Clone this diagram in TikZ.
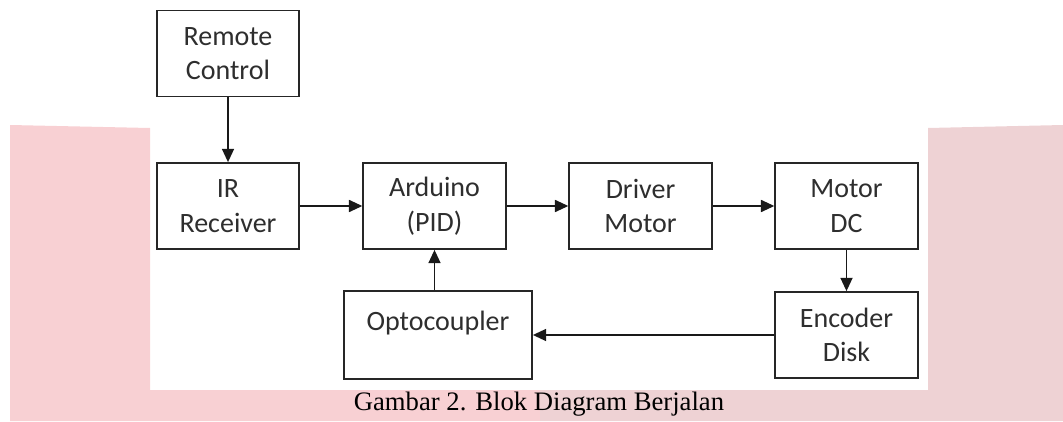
\documentclass[tikz,border=0pt]{standalone}
\usepackage{fontspec}
\setmainfont{Carlito}
\newfontfamily\capfont{Liberation Serif}
\usetikzlibrary{arrows.meta,positioning}
\definecolor{pinkL}{HTML}{F8D0D3}
\definecolor{pinkR}{HTML}{EED2D4}
\definecolor{txtgray}{HTML}{2E2E2E}
\tikzset{
  blok/.style={draw=black!85, line width=1.3pt, minimum width=107pt, minimum height=64.5pt,
    align=center, text=txtgray, font=\fontsize{21}{26}\selectfont, inner sep=0pt},
  panah/.style={-{Triangle[length=10pt,width=9pt]}, line width=1.3pt, draw=black!90}
}
\begin{document}
\begin{tikzpicture}[x=0.75pt,y=-0.75pt]
        \useasboundingbox (0,0) rectangle (1063,421);
        % pink band behind the white figure area
        \fill[pinkL] (10,125) -- (150,128) -- (150,390) -- (540,390) -- (540,421) -- (10,421) -- cycle;
        \fill[pinkR] (540,390) -- (928,390) -- (928,128) -- (1063,125) -- (1063,421) -- (540,421) -- cycle;
        % blocks
        \node[blok] (remote) at (228,53.5) {Remote\\Control};
        \node[blok] (ir) at (228,206) {IR\\Receiver};
        \node[blok] (ard) at (434.5,206) {Arduino\\(PID)};
        \node[blok] (drv) at (640.5,206) {Driver\\Motor};
        \node[blok] (mot) at (846.5,206) {Motor\\DC};
        \node[blok] (enc) at (846.5,335) {Encoder\\Disk};
        \node[blok, minimum width=141pt, minimum height=66pt] (opto) at (438,335) {Optocoupler\\[-12pt]\strut};
        % connections
        \draw[panah] (remote) -- (ir);
        \draw[panah] (ir) -- (ard);
        \draw[panah] (ard) -- (drv);
        \draw[panah] (drv) -- (mot);
        \draw[panah] (mot) -- (enc);
        \draw[panah] (enc.west) -- (enc.west -| opto.east);
        \draw[panah] (opto.north -| ard.south) -- (ard.south);
        % caption
        \node[font=\capfont\fontsize{20}{24}\selectfont] (cap) at (539,404) {Gambar 2. Blok Diagram Berjalan};
    \end{tikzpicture}
\end{document}
